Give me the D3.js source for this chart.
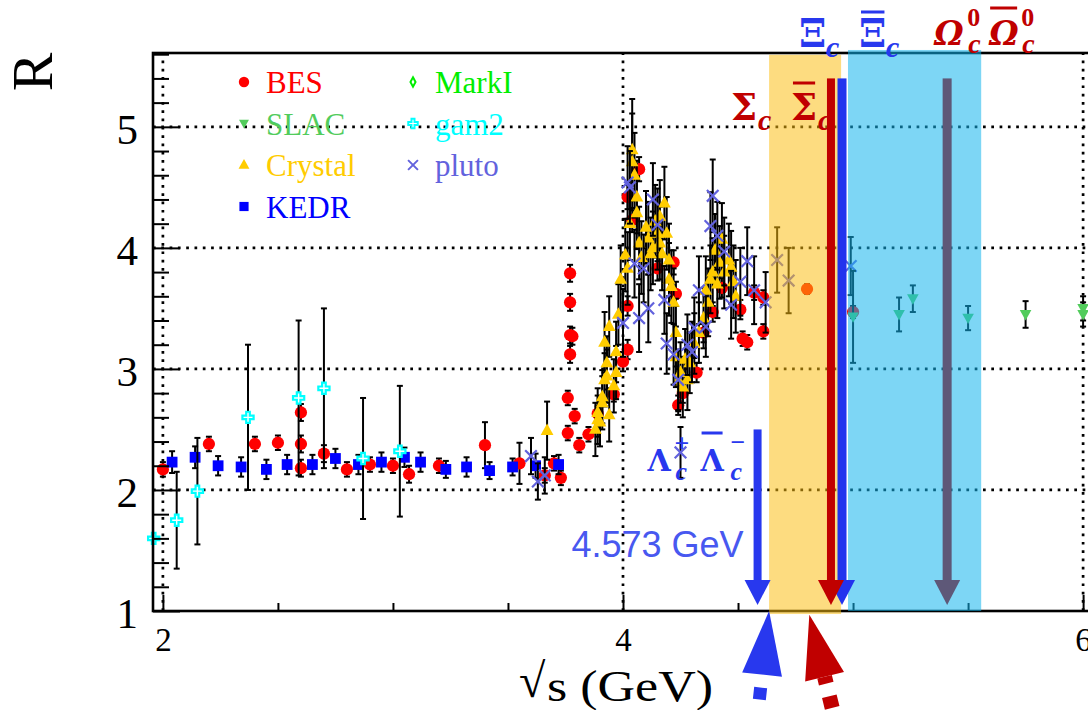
<!DOCTYPE html>
<html>
<head>
<meta charset="utf-8">
<script src="https://cdn.jsdelivr.net/npm/d3@7"></script>
<style>
body { margin: 0; background: #fff; }
svg { display: block; font-family: "Liberation Serif", serif; }
</style>
</head>
<body>
<svg id="chart"></svg>
<script>
// datasets: [sqrt(s) GeV, R, error]
const besData = [
    [2.00, 2.17, 0.06], [2.20, 2.38, 0.06], [2.40, 2.38, 0.06], [2.50, 2.39, 0.06],
    [2.60, 2.64, 0.07], [2.60, 2.38, 0.07], [2.60, 2.18, 0.07], [2.70, 2.30, 0.07],
    [2.80, 2.17, 0.06], [2.90, 2.21, 0.06], [3.00, 2.20, 0.06], [3.07, 2.13, 0.07],
    [3.20, 2.20, 0.06], [3.40, 2.37, 0.19], [3.55, 2.22, 0.17], [3.66, 2.12, 0.06],
    [3.70, 2.22, 0.06], [3.73, 2.10, 0.06], [3.76, 2.47, 0.06], [3.76, 2.76, 0.06],
    [3.79, 2.61, 0.06], [3.77, 3.79, 0.07], [3.77, 3.55, 0.07], [3.77, 3.28, 0.07],
    [3.78, 3.27, 0.07], [3.77, 3.12, 0.07], [3.81, 2.37, 0.06], [3.85, 2.46, 0.06],
    [3.89, 2.63, 0.06], [3.96, 2.79, 0.06], [4.00, 3.06, 0.08], [4.02, 3.16, 0.08],
    [4.02, 3.52, 0.08], [4.02, 4.42, 0.1], [4.04, 4.23, 0.1], [4.07, 4.65, 0.1],
    [4.15, 3.83, 0.1], [4.22, 3.88, 0.1], [4.23, 3.62, 0.1], [4.24, 2.70, 0.08],
    [4.26, 2.80, 0.08], [4.32, 2.97, 0.08], [4.35, 3.30, 0.08], [4.39, 3.47, 0.08],
    [4.43, 3.67, 0.08], [4.51, 3.49, 0.08], [4.52, 3.25, 0.06], [4.54, 3.22, 0.06],
    [4.57, 3.63, 0.06], [4.61, 3.59, 0.06], [4.61, 3.31, 0.06], [4.80, 3.66, 0.04],
    [5.00, 3.47, 0.05]
];
const kedrData = [
    [2.04, 2.23, 0.09], [2.14, 2.27, 0.09], [2.24, 2.20, 0.08], [2.34, 2.19, 0.08],
    [2.45, 2.17, 0.08], [2.54, 2.21, 0.08], [2.65, 2.21, 0.08], [2.75, 2.26, 0.08],
    [2.85, 2.21, 0.08], [2.95, 2.23, 0.08], [3.05, 2.27, 0.08], [3.12, 2.23, 0.08],
    [3.23, 2.17, 0.07], [3.32, 2.19, 0.08], [3.42, 2.16, 0.07], [3.52, 2.19, 0.07],
    [3.62, 2.20, 0.1], [3.72, 2.21, 0.08]
];
const gam2Data = [
    [1.96, 1.60, 0], [2.06, 1.75, 0.40], [2.15, 1.99, 0.44], [2.37, 2.60, 0.60],
    [2.59, 2.76, 0.64], [2.70, 2.84, 0.66], [2.87, 2.26, 0.50], [3.03, 2.32, 0.54]
];
const crystalData = [
    [3.67, 2.49, 0.24], [3.88, 2.50, 0.22], [3.89, 2.58, 0.2], [3.89, 2.64, 0.2],
    [3.90, 2.56, 0.2], [3.91, 2.72, 0.22], [3.91, 2.77, 0.22], [3.92, 2.91, 0.22],
    [3.92, 3.22, 0.25], [3.93, 2.94, 0.22], [3.93, 3.05, 0.22], [3.94, 2.62, 0.22],
    [3.94, 3.35, 0.25], [3.96, 2.86, 0.22], [3.97, 2.97, 0.22], [3.97, 3.14, 0.25],
    [3.98, 3.45, 0.25], [3.99, 3.74, 0.28], [4.01, 3.94, 0.3], [4.02, 3.83, 0.3],
    [4.03, 4.20, 0.3], [4.04, 4.81, 0.42], [4.04, 4.71, 0.4], [4.05, 4.60, 0.35],
    [4.06, 4.42, 0.3], [4.06, 4.29, 0.3], [4.07, 4.04, 0.3], [4.08, 3.92, 0.3],
    [4.10, 4.17, 0.3], [4.11, 4.08, 0.3], [4.12, 3.95, 0.3], [4.13, 4.00, 0.3],
    [4.14, 4.22, 0.3], [4.15, 4.12, 0.3], [4.16, 4.26, 0.3], [4.16, 4.04, 0.3],
    [4.17, 3.95, 0.3], [4.18, 4.37, 0.3], [4.19, 4.12, 0.3], [4.20, 3.90, 0.3],
    [4.20, 3.74, 0.3], [4.21, 3.68, 0.3], [4.22, 3.55, 0.28], [4.23, 3.30, 0.28],
    [4.23, 3.10, 0.25], [4.24, 2.90, 0.25], [4.25, 2.97, 0.25], [4.26, 2.85, 0.25],
    [4.27, 3.08, 0.25], [4.28, 2.91, 0.25], [4.29, 3.05, 0.25], [4.31, 3.21, 0.25],
    [4.33, 3.30, 0.25], [4.35, 3.42, 0.25], [4.36, 3.65, 0.28], [4.37, 3.55, 0.28],
    [4.38, 3.74, 0.28], [4.39, 3.80, 0.28], [4.40, 3.98, 0.3], [4.41, 3.70, 0.28],
    [4.42, 3.88, 0.3], [4.43, 4.07, 0.3], [4.44, 3.80, 0.3], [4.46, 3.90, 0.3],
    [4.47, 3.84, 0.3], [4.48, 3.72, 0.3], [4.49, 3.60, 0.3]
];
const plutoData = [
    [3.60, 2.28, 0.15], [3.63, 2.07, 0.15], [3.66, 2.12, 0.15], [4.00, 3.38, 0.28],
    [4.02, 4.54, 0.3], [4.03, 4.50, 0.3], [4.05, 3.87, 0.28], [4.07, 3.42, 0.28],
    [4.09, 3.83, 0.28], [4.11, 3.50, 0.28], [4.13, 4.40, 0.3], [4.15, 4.19, 0.3],
    [4.18, 3.57, 0.28], [4.19, 3.21, 0.25], [4.22, 3.12, 0.25], [4.24, 2.91, 0.25],
    [4.25, 2.31, 0.21], [4.28, 3.20, 0.25], [4.30, 3.14, 0.25], [4.31, 3.34, 0.25],
    [4.33, 3.65, 0.28], [4.36, 3.35, 0.25], [4.38, 4.18, 0.28], [4.39, 4.43, 0.3],
    [4.41, 4.10, 0.28], [4.44, 3.97, 0.28], [4.47, 3.53, 0.28], [4.51, 3.72, 0.28],
    [4.54, 3.89, 0.28], [4.57, 3.65, 0.28], [4.62, 3.55, 0.25], [4.67, 3.90, 0.27],
    [4.72, 3.73, 0.27], [4.99, 3.85, 0.24]
];
const slacData = [
    [5.00, 3.43, 0.38], [5.20, 3.45, 0.14], [5.26, 3.58, 0.11], [5.50, 3.42, 0.10],
    [5.75, 3.45, 0.11], [6.00, 3.50, 0.10], [6.00, 3.45, 0.10]
];

const legendNames = ["BES", "SLAC", "Crystal", "KEDR", "MarkI", "gam2", "pluto"];
const legendColors = ["#ff0000", "#52cc5c", "#ffcc00", "#0000ff", "#00ee00", "#00ffff", "#6262dd"];
const xTickValues = [2, 4, 6];
const yTickValues = [1, 2, 3, 4, 5];

// pair-production thresholds (GeV)
const lambdaE = 4.585;
const sigmaE = 4.904;
const xiE = 4.952;
const omegaE = 5.409;
const yellowBand = [4.635, 4.948];
const blueBand = [4.978, 5.557];

const width = 1088, height = 710;
const svg = d3.select("#chart").attr("width", width).attr("height", height);

const x = d3.scaleLinear().domain([1.957, 6.03]).range([153, 1090]);
const y = d3.scaleLinear().domain([1, 5.61]).range([611, 53]);

// dotted grid
const grid = svg.append("g")
    .attr("stroke", "#000").attr("stroke-width", 2.7).attr("stroke-dasharray", "2.7,5.6");
grid.selectAll("line.h").data([2, 3, 4, 5]).join("line").attr("class", "h")
    .attr("x1", x.range()[0]).attr("x2", x.range()[1])
    .attr("y1", d => y(d)).attr("y2", d => y(d));
grid.selectAll("line.v").data(xTickValues).join("line").attr("class", "v")
    .attr("x1", d => x(d)).attr("x2", d => x(d))
    .attr("y1", y.range()[0]).attr("y2", y.range()[1]);

// marker shapes
const circle = d3.symbol(d3.symbolCircle, 118)();
const square = "M-5.4,-5.4h10.8v10.8h-10.8z";
const triUp = "M0,-7.2L6.4,4.4L-6.4,4.4Z";
const triDown = "M0,6L-5.8,-4.4L5.8,-4.4Z";
const cross = "M-5.8,-5.8L5.8,5.8M-5.8,5.8L5.8,-5.8";
const openPlus = "M-1.8,-5.6h3.6v3.8h3.8v3.6h-3.8v3.8h-3.6v-3.8h-3.8v-3.6h3.8z";
const diamond = "M0,-5.5L3,0L0,5.5L-3,0Z";

function drawSeries(data, shape, fill, stroke) {
    const g = svg.append("g");
    const withErr = data.filter(d => d[2] > 0);
    g.selectAll("line.bar").data(withErr).join("line")
        .attr("x1", d => x(d[0])).attr("x2", d => x(d[0]))
        .attr("y1", d => y(d[1] - d[2])).attr("y2", d => y(d[1] + d[2]))
        .attr("stroke", "#000").attr("stroke-width", 2);
    [-1, 1].forEach(s => {
        g.selectAll("line.cap" + (s + 1)).data(withErr).join("line")
            .attr("x1", d => x(d[0]) - 3).attr("x2", d => x(d[0]) + 3)
            .attr("y1", d => y(d[1] + s * d[2])).attr("y2", d => y(d[1] + s * d[2]))
            .attr("stroke", "#000").attr("stroke-width", 2);
    });
    g.selectAll("path").data(data).join("path")
        .attr("d", shape)
        .attr("transform", d => `translate(${x(d[0])},${y(d[1])})`)
        .attr("fill", fill)
        .attr("stroke", stroke || "none")
        .attr("stroke-width", 2.2);
}

drawSeries(besData, circle, legendColors[0]);
drawSeries(kedrData, square, legendColors[3]);
drawSeries(gam2Data, openPlus, "#fff", legendColors[5]);
drawSeries(crystalData, triUp, legendColors[2]);
drawSeries(plutoData, cross, "none", legendColors[6]);
drawSeries(slacData, triDown, legendColors[1]);

// frame
svg.append("rect")
    .attr("x", x.range()[0]).attr("y", y.range()[1])
    .attr("width", x.range()[1] - x.range()[0]).attr("height", y.range()[0] - y.range()[1])
    .attr("fill", "none").attr("stroke", "#000").attr("stroke-width", 2.6);

// axes (ticks inside the frame)
const xMinor = d3.range(2.5, 6, 0.5).filter(v => v % 2 !== 0);
const yMinor = d3.range(1.2, 5.61, 0.2).filter(v => Math.abs(v - Math.round(v)) > 0.01);

const xAxisG = svg.append("g").attr("transform", `translate(0,${y(1)})`);
xAxisG.call(d3.axisBottom(x).tickValues(xTickValues).tickSize(-16).tickPadding(17).tickFormat(d3.format("d")));
const xMinorG = svg.append("g").attr("transform", `translate(0,${y(1)})`);
xMinorG.call(d3.axisBottom(x).tickValues(xMinor).tickSize(-8).tickFormat(""));

const yAxisG = svg.append("g").attr("transform", `translate(${x.range()[0]},0)`);
yAxisG.call(d3.axisLeft(y).tickValues(yTickValues).tickSize(-27).tickPadding(15).tickFormat(d3.format("d")));
const yMinorG = svg.append("g").attr("transform", `translate(${x.range()[0]},0)`);
yMinorG.call(d3.axisLeft(y).tickValues(yMinor).tickSize(-16).tickFormat(""));

[xAxisG, xMinorG, yAxisG, yMinorG].forEach(g => {
    g.select(".domain").remove();
    g.selectAll(".tick line").attr("stroke", "#000").attr("stroke-width", 2);
});
xAxisG.selectAll("text").attr("font-size", 33).attr("font-family", "Liberation Serif").attr("fill", "#000");
yAxisG.selectAll("text").attr("font-size", 43).attr("font-family", "Liberation Serif")
    .attr("fill", "#000").attr("dy", "0.38em");

// axis titles
svg.append("text")
    .attr("transform", "translate(52,72) rotate(-90)")
    .attr("text-anchor", "middle").attr("font-size", 58)
    .text("R");
svg.append("text")
    .attr("x", 519).attr("y", 697)
    .attr("font-size", 48)
    .text("√");
svg.append("text")
    .attr("x", 547).attr("y", 701)
    .attr("font-size", 44)
    .attr("textLength", 166).attr("lengthAdjust", "spacingAndGlyphs")
    .text("s (GeV)");

// legend
const legendShapes = [circle, triDown, triUp, square, diamond, openPlus, cross];
const legend = svg.append("g");
legendNames.forEach((name, i) => {
    const col = i < 4 ? 0 : 1;
    const row = i < 4 ? i : i - 4;
    const mx = col === 0 ? 244 : 413;
    const base = 93 + row * 41.5;
    const hollow = name === "MarkI" || name === "gam2" || name === "pluto";
    legend.append("path")
        .attr("d", legendShapes[i])
        .attr("transform", `translate(${mx},${base - 11}) scale(0.85)`)
        .attr("fill", hollow ? (name === "pluto" ? "none" : "#fff") : legendColors[i])
        .attr("stroke", hollow ? legendColors[i] : "none")
        .attr("stroke-width", 2.3);
    legend.append("text")
        .attr("x", mx + 22).attr("y", base)
        .attr("font-size", 31).attr("fill", legendColors[i])
        .text(name);
});

// threshold bands (semi transparent, on top of data)
svg.append("rect")
    .attr("x", x(yellowBand[0])).attr("width", x(yellowBand[1]) - x(yellowBand[0]))
    .attr("y", y(5.595)).attr("height", y(0.975) - y(5.595))
    .attr("fill", "rgb(251,188,15)").attr("fill-opacity", 0.53);
svg.append("rect")
    .attr("x", x(blueBand[0])).attr("width", x(blueBand[1]) - x(blueBand[0]))
    .attr("y", y(5.635)).attr("height", y(1.0) - y(5.635))
    .attr("fill", "rgb(18,180,236)").attr("fill-opacity", 0.55);

// particle labels
const greekFont = "DejaVu Serif";
function particleLabel(x0, color, parts) {
    const g = svg.append("g").attr("fill", color).attr("font-weight", "bold");
    parts.forEach(p => {
        const t = g.append("text")
            .attr("x", x0 + p.dx).attr("y", p.y)
            .attr("font-size", p.fs)
            .attr("font-family", p.greek ? greekFont : "Liberation Serif")
            .attr("font-style", p.it ? "italic" : "normal")
            .text(p.t);
        if (p.bar !== undefined) {
            const b = t.node().getBBox();
            g.append("rect")
                .attr("x", b.x + 2).attr("width", b.width - 4)
                .attr("y", p.bar - 1.5).attr("height", 3);
        }
    });
}

const darkRed = "#c00000";
const arrowBlue = "#2838ee";

particleLabel(x(sigmaE), darkRed, [
    { t: "Σ", dx: -100, y: 120, fs: 37, greek: true },
    { t: "c", dx: -73, y: 130, fs: 30, it: true },
    { t: "Σ", dx: -40, y: 120, fs: 37, greek: true, bar: 83 },
    { t: "c", dx: -13, y: 130, fs: 30, it: true }
]);
particleLabel(x(xiE), arrowBlue, [
    { t: "Ξ", dx: -43, y: 47, fs: 39, greek: true },
    { t: "c", dx: -16, y: 57, fs: 30, it: true },
    { t: "Ξ", dx: 17, y: 47, fs: 39, greek: true, bar: 12 },
    { t: "c", dx: 44, y: 57, fs: 30, it: true }
]);
particleLabel(x(omegaE), darkRed, [
    { t: "Ω", dx: -13, y: 45, fs: 33, it: true, greek: true },
    { t: "0", dx: 20, y: 26, fs: 26 },
    { t: "c", dx: 21, y: 53, fs: 28, it: true },
    { t: "Ω", dx: 42, y: 45, fs: 33, it: true, greek: true, bar: 8 },
    { t: "0", dx: 74, y: 26, fs: 26 },
    { t: "c", dx: 75, y: 53, fs: 28, it: true }
]);
particleLabel(x(lambdaE), arrowBlue, [
    { t: "Λ", dx: -110, y: 471, fs: 30, greek: true },
    { t: "+", dx: -83, y: 452, fs: 26 },
    { t: "c", dx: -82, y: 480, fs: 26, it: true },
    { t: "Λ", dx: -57, y: 471, fs: 30, greek: true, bar: 433 },
    { t: "−", dx: -27, y: 451, fs: 26 },
    { t: "c", dx: -27, y: 480, fs: 26, it: true }
]);

svg.append("text")
    .attr("x", x(lambdaE) - 14).attr("y", 557)
    .attr("text-anchor", "end")
    .attr("font-family", "Liberation Sans, sans-serif")
    .attr("font-size", 36).attr("fill", "#4858f0")
    .text("4.573 GeV");

// vertical threshold arrows
function downArrow(E, topR, color, w) {
    const cx = x(E), tip = y(1.05), headLen = 25;
    const g = svg.append("g").attr("fill", color);
    g.append("rect")
        .attr("x", cx - w / 2).attr("width", w)
        .attr("y", y(topR)).attr("height", tip - headLen + 1 - y(topR));
    g.append("path")
        .attr("d", `M${cx - 13},${tip - headLen}L${cx + 13},${tip - headLen}L${cx},${tip}Z`);
}
downArrow(lambdaE, 2.5, arrowBlue, 8);
downArrow(omegaE, 5.40, "#5e5878", 9);
downArrow(xiE, 5.40, "#2233ee", 9);
downArrow(sigmaE, 5.40, darkRed, 8);

// arrows under the axis
function upArrow(E, R, dxDir, color, shaftW, offset) {
    const tx = x(E), ty = y(R);
    const len = Math.hypot(dxDir, 1);
    const ux = dxDir / len, uy = 1 / len;     // pointing away from the tip
    const headLen = 64, half = 20;
    const bx = tx + ux * headLen, by = ty + uy * headLen;
    const g = svg.append("g");
    g.append("line")
        .attr("x1", bx).attr("y1", by)
        .attr("x2", bx + ux * 80).attr("y2", by + uy * 80)
        .attr("stroke", color).attr("stroke-width", shaftW)
        .attr("stroke-dasharray", "12,13").attr("stroke-dashoffset", offset);
    g.append("path")
        .attr("d", `M${tx},${ty}L${bx - uy * half},${by + ux * half}L${bx + uy * half},${by - ux * half}Z`)
        .attr("fill", color);
}
upArrow(yellowBand[0], 1.0, -0.11, arrowBlue, 13, 12);
upArrow(4.81, 0.97, 0.245, darkRed, 15, 5);
</script>
</body>
</html>
